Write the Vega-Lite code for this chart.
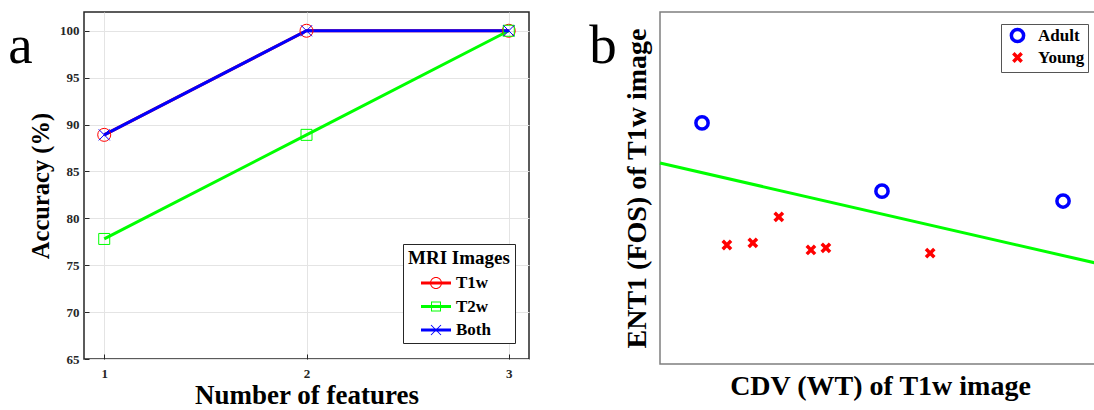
{
  "$schema": "https://vega.github.io/schema/vega-lite/v6.json",
  "background": "white",
  "padding": {"left": 7, "top": 11, "right": 0, "bottom": 0},
  "spacing": 58,
  "resolve": {"scale": {"color": "independent", "shape": "independent"}},
  "datasets": {
    "acc": [
      {"n": 1, "acc": 88.9, "s": "T1w"},
      {"n": 2, "acc": 100, "s": "T1w"},
      {"n": 3, "acc": 100, "s": "T1w"},
      {"n": 1, "acc": 77.8, "s": "T2w"},
      {"n": 2, "acc": 88.9, "s": "T2w"},
      {"n": 3, "acc": 100, "s": "T2w"},
      {"n": 1, "acc": 88.9, "s": "Both"},
      {"n": 2, "acc": 100, "s": "Both"},
      {"n": 3, "acc": 100, "s": "Both"}
    ],
    "pts": [
      {"cdv": 9.55, "ent": 68.5, "g": "Adult"},
      {"cdv": 50.45, "ent": 49.1, "g": "Adult"},
      {"cdv": 91.6, "ent": 46.3, "g": "Adult"},
      {"cdv": 15.2, "ent": 33.8, "g": "Young"},
      {"cdv": 21.1, "ent": 34.4, "g": "Young"},
      {"cdv": 27.0, "ent": 41.8, "g": "Young"},
      {"cdv": 34.3, "ent": 32.4, "g": "Young"},
      {"cdv": 37.7, "ent": 33.0, "g": "Young"},
      {"cdv": 61.4, "ent": 31.5, "g": "Young"}
    ],
    "bnd": [
      {"cdv": 0, "ent": 57.1},
      {"cdv": 100, "ent": 28.4}
    ],
    "lblA": [{"t": "a", "n": 0.526, "acc": 96.6}],
    "lblB": [{"t": "b", "cdv": -16.1, "ent": 85.5}]
  },
  "config": {
    "font": "Liberation Serif",
    "axis": {"labelFont": "Liberation Serif", "titleFont": "Liberation Serif", "labelFontWeight": "bold", "titleFontWeight": "bold", "titleColor": "black", "titleFontSize": 24},
    "legend": {"labelFont": "Liberation Serif", "titleFont": "Liberation Serif", "labelFontWeight": "bold", "titleFontWeight": "bold", "labelColor": "black", "titleColor": "black"}
  },
  "hconcat": [
    {
      "width": 445,
      "height": 347,
      "view": {"stroke": "#262626", "strokeWidth": 1.5},
      "encoding": {
        "x": {"field": "n", "type": "quantitative", "scale": {"domain": [0.9, 3.1], "nice": false, "zero": false},
          "axis": {"title": "Number of features", "titleFontSize": 27, "values": [1, 2, 3], "format": "d", "grid": true, "gridColor": "#e4e4e4", "domain": false, "tickSize": -5, "tickColor": "#262626", "labelFontSize": 13, "labelColor": "#262626", "labelPadding": 13, "titlePadding": 2}},
        "y": {"field": "acc", "type": "quantitative", "scale": {"domain": [65, 102], "nice": false, "zero": false},
          "axis": {"title": "Accuracy (%)", "titleFontSize": 24.5, "values": [65, 70, 75, 80, 85, 90, 95, 100], "grid": true, "gridColor": "#e4e4e4", "domain": false, "tickSize": -5, "tickColor": "#262626", "labelFontSize": 13, "labelColor": "#262626", "labelPadding": 10, "titlePadding": 6}}
      },
      "layer": [
        {
          "data": {"name": "acc"},
          "transform": [{"filter": "datum.s === 'T1w'"}],
          "mark": {"type": "line", "strokeWidth": 3, "color": "#ff0000"}
        },
        {
          "data": {"name": "acc"},
          "transform": [{"filter": "datum.s === 'T2w'"}],
          "mark": {"type": "line", "strokeWidth": 3, "color": "#00ff00"}
        },
        {
          "data": {"name": "acc"},
          "transform": [{"filter": "datum.s === 'Both'"}],
          "mark": {"type": "line", "strokeWidth": 3, "color": "#0000ff"}
        },
        {
          "data": {"name": "acc"},
          "transform": [{"filter": "datum.s === 'T1w'"}],
          "mark": {"type": "point", "shape": "circle", "filled": false, "color": "#ff0000", "strokeWidth": 1, "size": 169, "opacity": 1}
        },
        {
          "data": {"name": "acc"},
          "transform": [{"filter": "datum.s === 'T2w'"}],
          "mark": {"type": "point", "shape": "square", "filled": false, "color": "#00ff00", "strokeWidth": 1, "size": 121, "opacity": 1}
        },
        {
          "data": {"name": "acc"},
          "transform": [{"filter": "datum.s === 'Both'"}],
          "mark": {"type": "point", "shape": "M-1,-1L1,1M-1,1L1,-1", "filled": false, "color": "#0000ff", "strokeWidth": 1, "size": 121, "opacity": 1}
        },
        {
          "data": {"name": "acc"},
          "mark": {"type": "point", "filled": true, "opacity": 0},
          "encoding": {
            "color": {"field": "s", "type": "nominal", "scale": {"domain": ["T1w", "T2w", "Both"], "range": ["#ff0000", "#00ff00", "#0000ff"]},
              "legend": {"orient": "none", "legendX": 319, "legendY": 232, "title": "MRI Images", "titleFontSize": 19, "titlePadding": 5, "labelFontSize": 17, "symbolSize": 400, "symbolOpacity": 1, "symbolStrokeWidth": 0, "symbolOffset": 18, "rowPadding": 5.5, "padding": 5, "strokeColor": "#262626", "fillColor": "white", "labelOffset": 10}},
            "shape": {"field": "s", "type": "nominal", "scale": {"domain": ["T1w", "T2w", "Both"], "range": [
              "M-1.5,-0.15H1.5V0.15H-1.5Z M0,-0.6A0.6,0.6 0 1,1 0,0.6A0.6,0.6 0 1,1 0,-0.6Z M0,-0.5A0.5,0.5 0 1,0 0,0.5A0.5,0.5 0 1,0 0,-0.5Z",
              "M-1.5,-0.15H1.5V0.15H-1.5Z M-0.5,-0.5H0.5V0.5H-0.5Z M-0.4,-0.4V0.4H0.4V-0.4Z",
              "M-1.5,-0.15H1.5V0.15H-1.5Z M-0.465,-0.535L0.535,0.465L0.465,0.535L-0.535,-0.465Z M-0.535,0.465L0.465,-0.535L0.535,-0.465L-0.465,0.535Z"
            ]},
              "legend": {"orient": "none", "legendX": 319, "legendY": 232, "title": "MRI Images", "titleFontSize": 19, "titlePadding": 5, "labelFontSize": 17, "symbolSize": 400, "symbolOpacity": 1, "symbolStrokeWidth": 0, "symbolOffset": 18, "rowPadding": 5.5, "padding": 5, "strokeColor": "#262626", "fillColor": "white", "labelOffset": 10}}
          }
        },
        {
          "data": {"name": "lblA"},
          "mark": {"type": "text", "font": "Liberation Serif", "fontSize": 55, "align": "left", "baseline": "alphabetic", "color": "black"},
          "encoding": {"text": {"field": "t"}}
        }
      ]
    },
    {
      "width": 440,
      "height": 352,
      "view": {"stroke": "#7f7f7f", "strokeWidth": 1.5},
      "encoding": {
        "x": {"field": "cdv", "type": "quantitative", "scale": {"domain": [0, 100], "nice": false, "zero": false},
          "axis": {"title": "CDV (WT) of T1w image", "titleFontSize": 28, "labels": false, "ticks": false, "domain": false, "grid": false, "titlePadding": 8}},
        "y": {"field": "ent", "type": "quantitative", "scale": {"domain": [0, 100], "nice": false, "zero": false},
          "axis": {"title": "ENT1 (FOS) of T1w image", "titleFontSize": 28, "labels": false, "ticks": false, "domain": false, "grid": false, "titlePadding": 9}}
      },
      "layer": [
        {
          "data": {"name": "bnd"},
          "mark": {"type": "line", "color": "#00ff00", "strokeWidth": 3},
          "encoding": {}
        },
        {
          "data": {"name": "pts"},
          "mark": {"type": "point", "filled": false, "strokeWidth": 3.5, "size": 150, "opacity": 1},
          "encoding": {
            "color": {"field": "g", "type": "nominal", "scale": {"domain": ["Adult", "Young"], "range": ["#0000ff", "#ff0000"]},
              "legend": {"orient": "none", "legendX": 341, "legendY": 12, "title": null, "labelFontSize": 17, "symbolStrokeWidth": 3.5, "symbolSize": 150, "strokeColor": "#555555", "padding": 3, "fillColor": "white", "rowPadding": -8, "labelOffset": 12, "symbolOffset": 5}},
            "shape": {"field": "g", "type": "nominal", "scale": {"domain": ["Adult", "Young"], "range": ["circle", "M-0.68,-0.68L0.68,0.68M-0.68,0.68L0.68,-0.68"]},
              "legend": {"orient": "none", "legendX": 341, "legendY": 12, "title": null, "labelFontSize": 17, "symbolStrokeWidth": 3.5, "symbolSize": 150, "strokeColor": "#555555", "padding": 3, "fillColor": "white", "rowPadding": -8, "labelOffset": 12, "symbolOffset": 5}}
          }
        },
        {
          "data": {"name": "lblB"},
          "mark": {"type": "text", "font": "Liberation Serif", "fontSize": 55, "align": "left", "baseline": "alphabetic", "color": "black"},
          "encoding": {"text": {"field": "t"}}
        }
      ]
    }
  ]
}
